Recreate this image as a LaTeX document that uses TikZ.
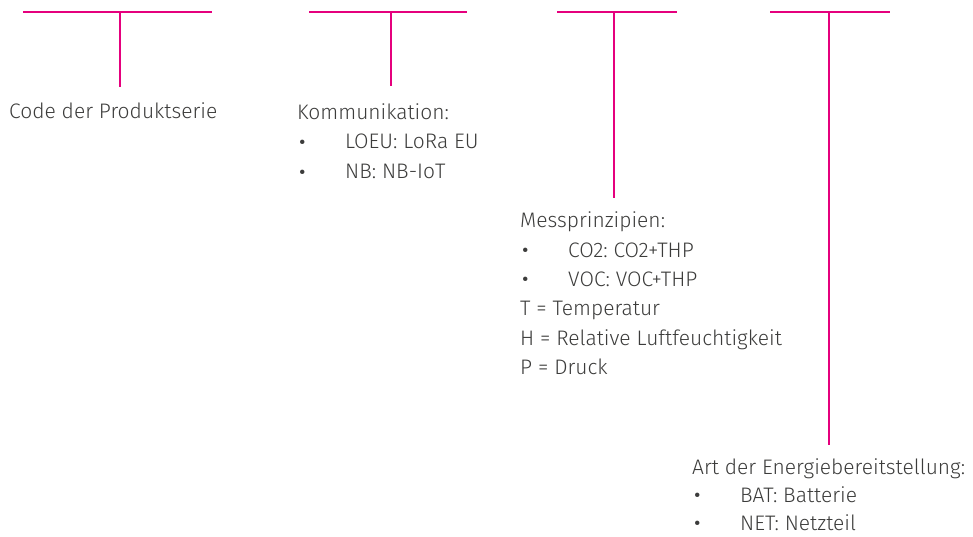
\documentclass[tikz,border=0pt]{standalone}
\usepackage{fontspec}
\setmainfont{Fira Sans Light}
\definecolor{pinkline}{HTML}{E5007D}
\definecolor{txt}{HTML}{3C3C3B}
\tikzset{
  bar/.style={draw=pinkline, line width=2.6pt},
  lbl/.style={anchor=base west, inner sep=0pt, text=txt, font=\fontsize{21}{24}\selectfont\frenchspacing},
}
\newcommand{\bul}[1]{\makebox[48pt][l]{\kern1pt\raisebox{-3.6pt}{\scalebox{1.4}{•}}}#1}
\begin{document}
\begin{tikzpicture}[x=1pt,y=-1pt]
\useasboundingbox (0,0) rectangle (973,537);
% top bars and stems
\coordinate (a1) at (23,12); \coordinate (a2) at (212,12); \coordinate (as) at (120,12); \coordinate (ae) at (120,87);
\coordinate (b1) at (309,12); \coordinate (b2) at (467,12); \coordinate (bs) at (391,12); \coordinate (be) at (391,86);
\coordinate (c1) at (557,12); \coordinate (c2) at (677,12); \coordinate (cs) at (614,12); \coordinate (ce) at (614,198);
\coordinate (d1) at (770,12); \coordinate (d2) at (890,12); \coordinate (ds) at (829,12); \coordinate (de) at (829,445);
\draw[bar] (a1) -- (a2); \draw[bar] (as) -- (ae);
\draw[bar] (b1) -- (b2); \draw[bar] (bs) -- (be);
\draw[bar] (c1) -- (c2); \draw[bar] (cs) -- (ce);
\draw[bar] (d1) -- (d2); \draw[bar] (ds) -- (de);
% texts
\node[lbl] (t1) at (9,119) {Code der Produktserie};
\node[lbl] (k0) at (297,120) {Kommunikation:};
\node[lbl] (k1) at (297,149) {\bul{LOEU: LoRa EU}};
\node[lbl] (k2) at (297,179) {\bul{NB: NB-IoT}};
\node[lbl] (m0) at (520,228) {Messprinzipien:};
\node[lbl] (m1) at (520,257) {\bul{CO2: CO2+THP}};
\node[lbl] (m2) at (520,286) {\bul{VOC: VOC+THP}};
\node[lbl] (m3) at (520,315) {T = Temperatur};
\node[lbl] (m4) at (520,345) {H = Relative Luftfeuchtigkeit};
\node[lbl] (m5) at (520,374) {P = Druck};
\node[lbl] (e0) at (692,474) {Art der Energiebereitstellung:};
\node[lbl] (e1) at (692,502) {\bul{BAT: Batterie}};
\node[lbl] (e2) at (692,530) {\bul{NET: Netzteil}};
\end{tikzpicture}
\end{document}
